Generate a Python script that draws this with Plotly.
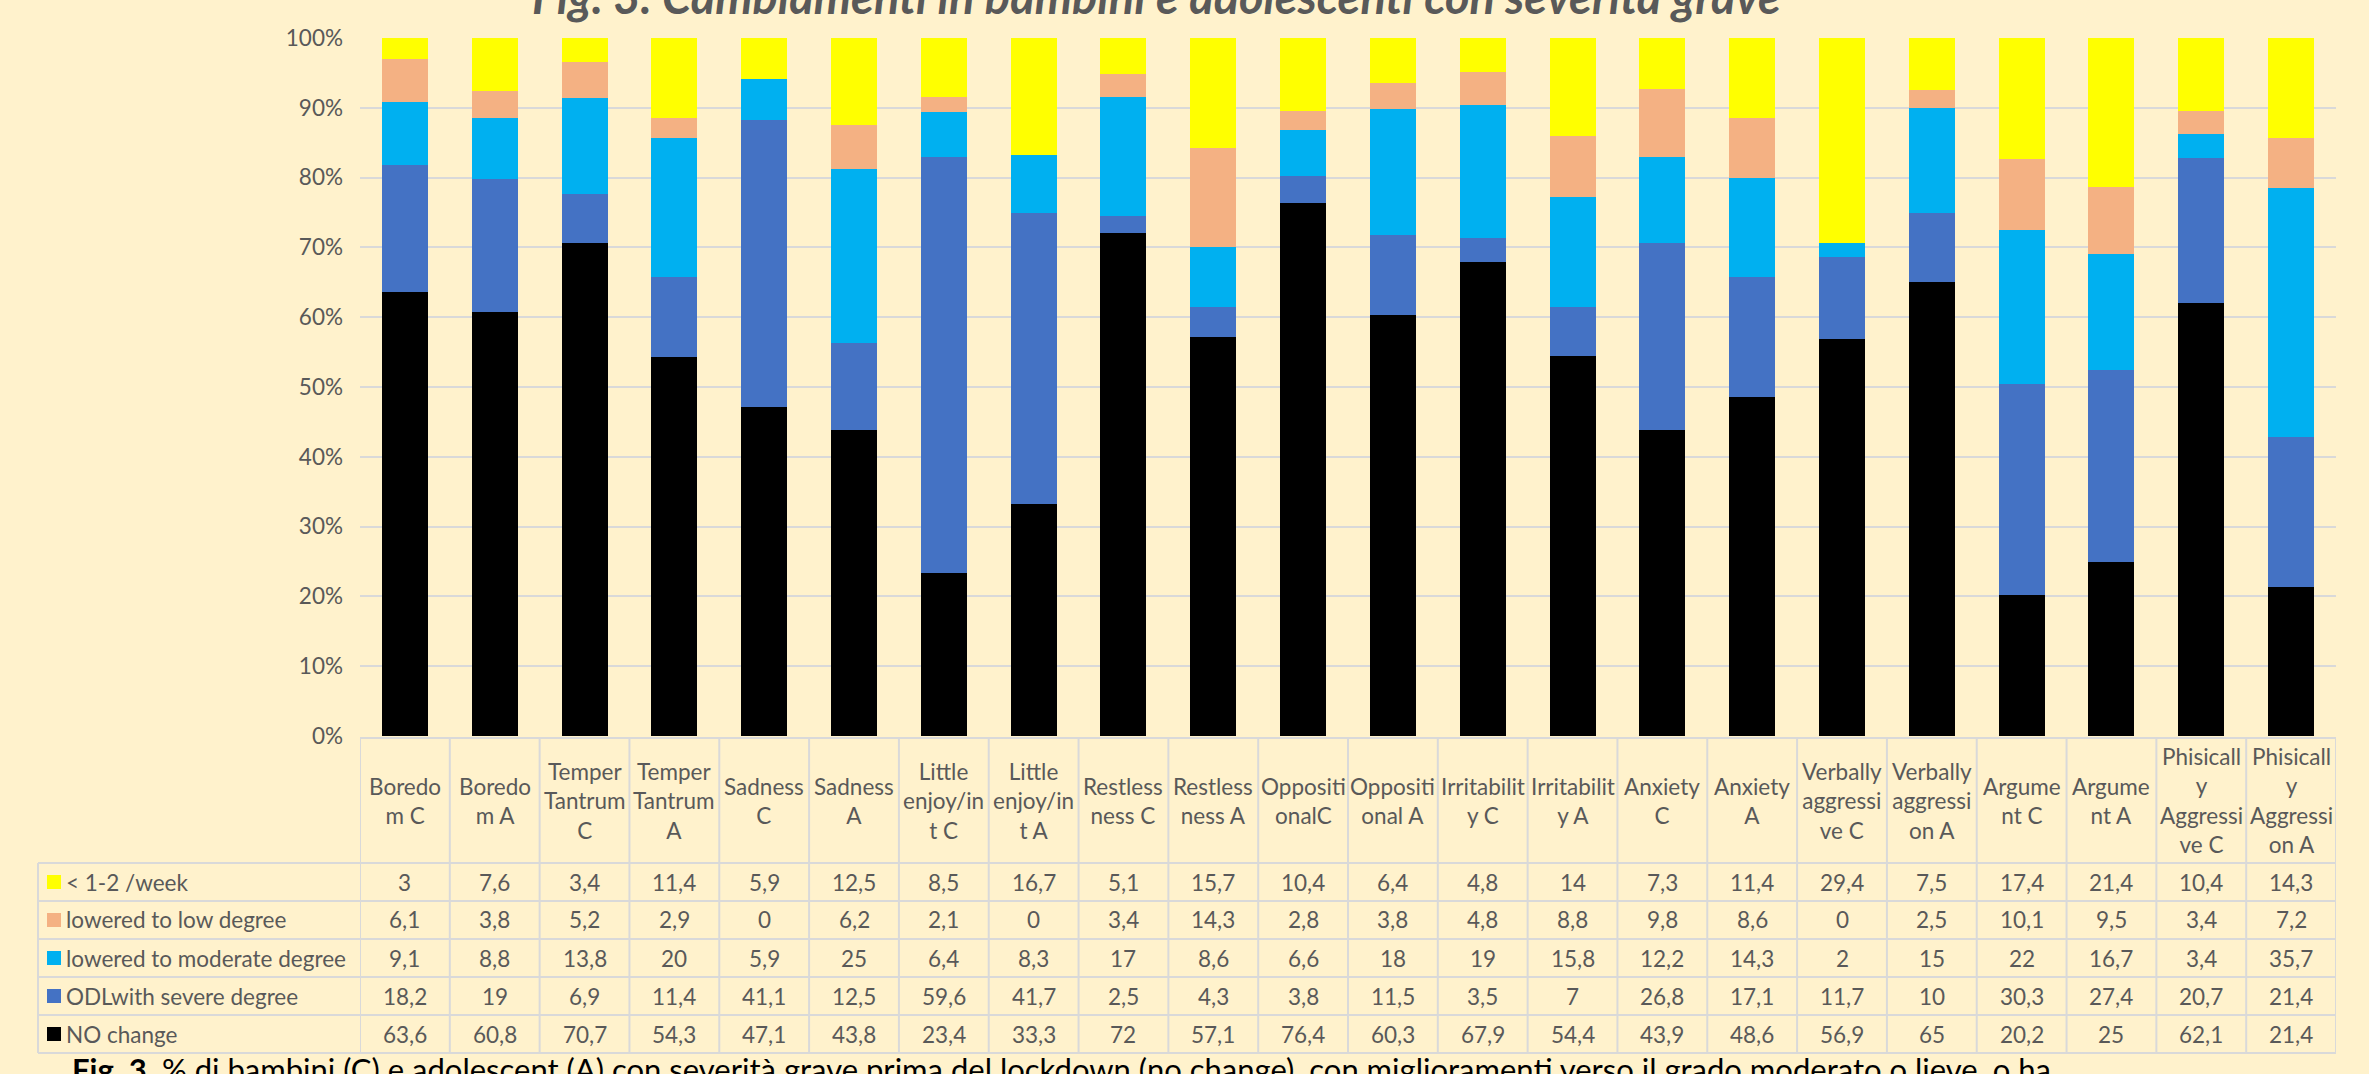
import plotly.graph_objects as go

# ---------------- data ----------------
categories = [
    "Boredom C", "Boredom A", "Temper Tantrum C", "Temper Tantrum A",
    "Sadness C", "Sadness A", "Little enjoy/int C", "Little enjoy/int A",
    "Restless ness C", "Restless ness A", "OppositionalC", "Oppositional A",
    "Irritability C", "Irritability A", "Anxiety C", "Anxiety A",
    "Verbally aggressive C", "Verbally aggression A", "Argument C", "Argument A",
    "Phisically Aggressive C", "Phisically Aggression A",
]
header_labels = [
    "Boredo<br>m C", "Boredo<br>m A", "Temper<br>Tantrum<br>C", "Temper<br>Tantrum<br>A",
    "Sadness<br>C", "Sadness<br>A", "Little<br>enjoy/in<br>t C", "Little<br>enjoy/in<br>t A",
    "Restless<br>ness C", "Restless<br>ness A", "Oppositi<br>onalC", "Oppositi<br>onal A",
    "Irritabilit<br>y C", "Irritabilit<br>y A", "Anxiety<br>C", "Anxiety<br>A",
    "Verbally<br>aggressi<br>ve C", "Verbally<br>aggressi<br>on A", "Argume<br>nt C", "Argume<br>nt A",
    "Phisicall<br>y<br>Aggressi<br>ve C", "Phisicall<br>y<br>Aggressi<br>on A",
]
series_names = ["< 1-2 /week", "lowered to low degree", "lowered to moderate degree",
                "ODLwith severe degree", "NO change"]
week_1_2 = [3, 7.6, 3.4, 11.4, 5.9, 12.5, 8.5, 16.7, 5.1, 15.7, 10.4, 6.4, 4.8, 14, 7.3, 11.4, 29.4, 7.5, 17.4, 21.4, 10.4, 14.3]
low_degree = [6.1, 3.8, 5.2, 2.9, 0, 6.2, 2.1, 0, 3.4, 14.3, 2.8, 3.8, 4.8, 8.8, 9.8, 8.6, 0, 2.5, 10.1, 9.5, 3.4, 7.2]
moderate_degree = [9.1, 8.8, 13.8, 20, 5.9, 25, 6.4, 8.3, 17, 8.6, 6.6, 18, 19, 15.8, 12.2, 14.3, 2, 15, 22, 16.7, 3.4, 35.7]
severe_degree = [18.2, 19, 6.9, 11.4, 41.1, 12.5, 59.6, 41.7, 2.5, 4.3, 3.8, 11.5, 3.5, 7, 26.8, 17.1, 11.7, 10, 30.3, 27.4, 20.7, 21.4]
no_change = [63.6, 60.8, 70.7, 54.3, 47.1, 43.8, 23.4, 33.3, 72, 57.1, 76.4, 60.3, 67.9, 54.4, 43.9, 48.6, 56.9, 65, 20.2, 25, 62.1, 21.4]
y_tick_values = [0, 10, 20, 30, 40, 50, 60, 70, 80, 90, 100]
y_tick_labels = ["0%", "10%", "20%", "30%", "40%", "50%", "60%", "70%", "80%", "90%", "100%"]

title_text = "Fig. 3. Cambiamenti in bambini e adolescenti con severità grave"
caption_bold = "Fig. 3."
caption_text = (" % di bambini (C) e adolescent (A) con severità grave prima del lockdown "
                "(no change), con miglioramenti verso il grado moderato o lieve, o ha")

# ---------------- styling ----------------
W, H = 2369, 1074
L, R, T, B = 360, 2336, 38, 736          # plot area in pixels
BG = "#FFF2CC"
TXT = "#595959"
GRID = "#D9D9D9"
FONT = "Lato, Carlito, 'Liberation Sans', sans-serif"
FS = 22.5
colors = {
    "< 1-2 /week": "#FFFF00",
    "lowered to low degree": "#F4B183",
    "lowered to moderate degree": "#00B0F0",
    "ODLwith severe degree": "#4472C4",
    "NO change": "#000000",
}
series_values = {
    "< 1-2 /week": week_1_2,
    "lowered to low degree": low_degree,
    "lowered to moderate degree": moderate_degree,
    "ODLwith severe degree": severe_degree,
    "NO change": no_change,
}


def px_x(px):
    return (px - L) / (R - L)


def px_y(py):
    return (B - py) / (B - T)


def fmt(v):
    return str(int(v)) if float(v).is_integer() else str(v).replace(".", ",")


fig = go.Figure()
# stacked from the bottom: NO change first
for name in reversed(series_names):
    fig.add_trace(go.Bar(
        x=categories, y=series_values[name], name=name,
        marker=dict(color=colors[name], line=dict(width=0)),
        showlegend=False,
    ))

shapes = []
annotations = []

# table geometry (pixels)
table_left = 38
header_top = 738
header_bottom = 863
row_h = 38
row_lines = [header_bottom + i * row_h for i in range(6)]
table_bottom = row_lines[-1]
line_style = dict(color=GRID, width=2)

# horizontal lines
shapes.append(dict(type="line", xref="paper", yref="paper", x0=px_x(L), x1=px_x(R),
                   y0=px_y(header_top), y1=px_y(header_top), line=line_style))
for yl in row_lines:
    shapes.append(dict(type="line", xref="paper", yref="paper", x0=px_x(table_left), x1=px_x(R),
                       y0=px_y(yl), y1=px_y(yl), line=line_style))
# vertical lines at category boundaries
for i in range(len(categories) + 1):
    shapes.append(dict(type="line", xref="x", yref="paper", x0=i - 0.5, x1=i - 0.5,
                       y0=px_y(header_top), y1=px_y(table_bottom), line=line_style))
shapes.append(dict(type="line", xref="paper", yref="paper", x0=px_x(table_left), x1=px_x(table_left),
                   y0=px_y(header_bottom), y1=px_y(table_bottom), line=line_style))

# header labels
header_mid = (header_top + header_bottom) / 2
for cat, lab in zip(categories, header_labels):
    annotations.append(dict(x=cat, xref="x", y=px_y(header_mid), yref="paper",
                            text=lab, showarrow=False, xanchor="center", yanchor="middle",
                            font=dict(family=FONT, size=FS, color=TXT)))

# rows
for r, name in enumerate(series_names):
    yc = row_lines[r] + row_h / 2
    shapes.append(dict(type="rect", xref="paper", yref="paper",
                       x0=px_x(47), x1=px_x(61), y0=px_y(yc - 7), y1=px_y(yc + 7),
                       fillcolor=colors[name], line=dict(width=0)))
    annotations.append(dict(x=px_x(64), xref="paper", y=px_y(yc), yref="paper",
                            text=name, showarrow=False, xanchor="left", yanchor="middle",
                            font=dict(family=FONT, size=FS, color=TXT)))
    for cat, v in zip(categories, series_values[name]):
        annotations.append(dict(x=cat, xref="x", y=px_y(yc), yref="paper",
                                text=fmt(v), showarrow=False, xanchor="center", yanchor="middle",
                                font=dict(family=FONT, size=FS, color=TXT)))

# title (cut off at top)
annotations.append(dict(x=px_x(1156), xref="paper", y=px_y(-4), yref="paper",
                        text="<b><i>" + title_text + "</i></b>", showarrow=False,
                        xanchor="center", yanchor="middle",
                        font=dict(family=FONT, size=47, color=TXT)))
# caption (cut off at bottom)
annotations.append(dict(x=px_x(70), xref="paper", y=px_y(1069), yref="paper",
                        text="<b>" + caption_bold + "</b>" + caption_text, showarrow=False,
                        xanchor="left", yanchor="middle",
                        font=dict(family=FONT, size=31, color="#000000")))

fig.update_layout(
    width=W, height=H, autosize=False,
    margin=dict(l=L, r=W - R, t=T, b=H - B, pad=0),
    paper_bgcolor=BG, plot_bgcolor=BG,
    barmode="stack", barnorm="percent", bargap=0.488,
    shapes=shapes, annotations=annotations,
    font=dict(family=FONT, size=FS, color=TXT),
)
fig.update_xaxes(type="category", categoryorder="array", categoryarray=categories,
                 range=[-0.5, len(categories) - 0.5], showticklabels=False,
                 showgrid=False, zeroline=False, showline=False, ticks="")
fig.update_yaxes(range=[0, 100], tickvals=y_tick_values, ticktext=y_tick_labels,
                 showgrid=True, gridcolor=GRID, gridwidth=1.5, zeroline=False, showline=False,
                 ticks="", ticklabelstandoff=16,
                 tickfont=dict(family=FONT, size=FS, color=TXT))

fig.write_html("out.html", config={"displayModeBar": False},
               post_script="document.body.style.margin='0';document.body.style.overflow='hidden';")
